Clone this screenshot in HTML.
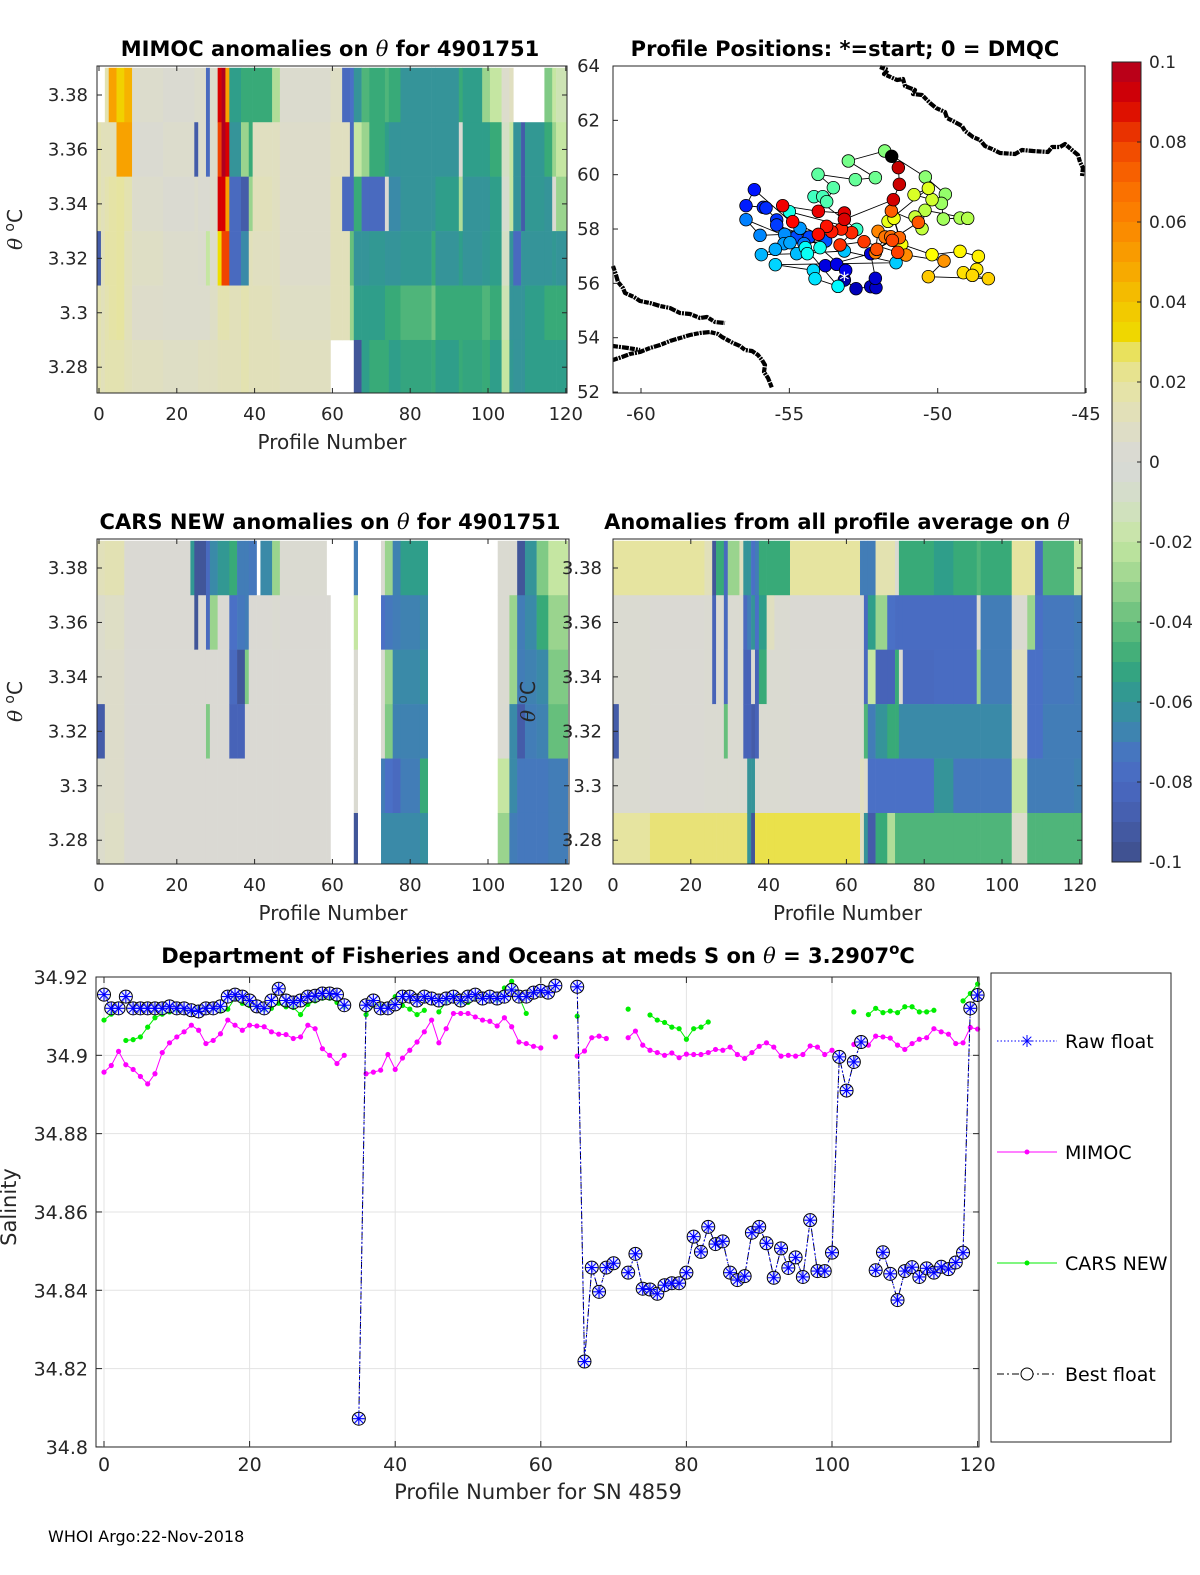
<!DOCTYPE html>
<html><head><meta charset="utf-8"><style>
html,body{margin:0;padding:0;background:#fff;}
svg{display:block;font-family:"DejaVu Sans","Liberation Sans",sans-serif;}
</style></head><body>
<svg id="fig" width="1200" height="1575" viewBox="0 0 1200 1575" xmlns="http://www.w3.org/2000/svg">
<rect width="1200" height="1575" fill="#fff"/>
<g id="p1"></g>
<g id="p2"></g>
<g id="p3"></g>
<g id="map"></g>
<g id="cbar"></g>
<g id="sal"></g>
<text x="48" y="1542" font-size="16">WHOI Argo:22-Nov-2018</text>
</svg>
<script>
// ---------- DATA ----------
const thetaLevels=[3.38,3.36,3.34,3.32,3.30,3.28];
// segments: [profileStart, profileEnd, anomaly at each theta level top->bottom]
const mimocSegs=[
[-0.8,0.5,null,0.015,0.015,-0.09,0.015,0.015],[0.5,1.5,null,0.012,0.012,0.012,0.012,0.012],
[1.5,2.5,0.015,0.012,0.015,0.018,0.015,0.015],[2.5,4.5,0.05,0.012,0.018,0.018,0.018,0.015],
[4.5,6.5,0.035,0.05,0.02,0.02,0.02,0.015],[6.5,8.5,0.045,0.05,0.015,0.012,0.012,0.012],
[8.5,16.5,0.005,0.003,0.005,0.008,0.006,0.01],[16.5,24.5,0.003,0.005,0.003,0.005,0.005,0.008],
[24.5,25.5,0.005,-0.09,0.005,0.005,0.005,0.008],[25.5,27.5,0.005,0.005,0.003,0.004,0.005,0.01],
[27.5,28.5,-0.08,-0.08,0.003,-0.02,0.005,0.01],[28.5,30.5,0.005,0.005,0.005,0.005,0.008,0.01],
[30.5,31.5,0.09,0.08,0.09,0.03,0.015,0.012],[31.5,32.5,0.1,0.1,0.09,0.08,0.015,0.012],
[32.5,33.5,0.05,0.09,0.05,0.08,0.015,0.012],[33.5,36.5,-0.055,-0.06,-0.08,-0.08,0.012,0.012],
[36.5,38.5,-0.05,-0.03,-0.09,-0.065,0.015,0.015],[38.5,39.5,-0.05,-0.05,-0.03,0.012,0.012,0.012],
[39.5,44.5,-0.05,0.01,0.012,0.01,0.012,0.012],[44.5,46.5,-0.025,0.01,0.01,0.01,0.01,0.012],
[46.5,59.5,0.004,0.006,0.006,0.006,0.008,0.01],[59.5,62.5,0.008,0.01,0.012,0.012,0.012,null],
[62.5,64.5,-0.08,0.01,-0.08,0.012,0.012,null],[64.5,65.5,-0.075,-0.08,-0.08,-0.04,-0.03,null],
[65.5,67.5,-0.06,-0.02,-0.05,-0.06,-0.055,-0.095],[67.5,69.5,-0.045,-0.03,-0.08,-0.06,-0.055,-0.055],
[69.5,73.5,-0.05,-0.05,-0.08,-0.058,-0.055,-0.05],[73.5,74.5,-0.045,-0.055,0.003,-0.06,-0.05,-0.05],
[74.5,77.5,-0.05,-0.06,-0.065,-0.06,-0.05,-0.055],[77.5,85.5,-0.06,-0.06,-0.06,-0.058,-0.045,-0.052],
[85.5,86.5,-0.06,-0.06,-0.06,-0.05,-0.038,-0.05],[86.5,92.5,-0.06,-0.06,-0.055,-0.06,-0.05,-0.055],
[92.5,93.5,-0.05,0.003,-0.025,-0.055,-0.05,-0.05],[93.5,98.5,-0.055,-0.055,-0.06,-0.06,-0.05,-0.052],
[98.5,100.5,-0.03,-0.055,-0.06,-0.058,-0.045,-0.05],[100.5,103.5,-0.02,-0.05,-0.055,-0.055,-0.05,-0.055],
[103.5,105.5,0.005,-0.01,-0.005,-0.01,-0.015,-0.02],[105.5,106.5,0.01,-0.02,-0.02,-0.06,-0.06,-0.058],
[106.5,108.5,null,-0.06,-0.06,-0.08,-0.06,-0.06],[108.5,109.5,null,-0.09,-0.09,-0.06,-0.06,-0.06],
[109.5,114.5,null,-0.058,-0.058,-0.06,-0.055,-0.055],[114.5,116.5,-0.035,-0.05,-0.06,-0.06,-0.05,-0.055],
[116.5,117.5,-0.02,-0.03,0.003,-0.058,-0.05,-0.055],[117.5,120.5,-0.015,-0.02,-0.03,-0.06,-0.05,-0.055]];
const carsSegs=[
[-0.8,1.5,0.012,0.005,0.005,-0.09,0.005,0.005],[1.5,6.5,0.014,0.008,0.006,0.006,0.006,0.008],
[6.5,23.5,0.002,0.002,0.002,0.002,0.002,0.002],[23.5,24.5,-0.058,0.002,0.002,0.002,0.002,0.002],
[24.5,25.5,-0.095,-0.095,0.002,0.002,0.002,0.002],[25.5,27.5,-0.095,0.002,0.002,0.002,0.002,0.002],
[27.5,28.5,-0.08,-0.08,0.002,-0.035,0.002,0.002],[28.5,30.5,-0.065,-0.03,0.002,0.002,0.002,0.002],
[30.5,33.5,-0.058,0.002,0.002,0.002,0.002,0.002],[33.5,35.5,-0.05,-0.075,-0.08,-0.085,0.002,0.002],
[35.5,37.5,-0.07,-0.072,-0.095,-0.085,0.002,0.002],[37.5,38.5,-0.07,-0.07,-0.035,0.002,0.002,0.002],
[38.5,40.5,-0.072,0.002,0.002,0.002,0.002,0.002],[40.5,41.5,null,0.002,0.002,0.002,0.002,0.002],
[41.5,44.5,-0.065,0.002,0.002,0.002,0.002,0.002],[44.5,46.5,-0.03,0.003,0.002,0.002,0.002,0.002],
[46.5,58.5,0.003,0.002,0.002,0.002,0.002,0.002],[58.5,59.5,null,0.002,0.002,0.002,0.002,0.002],
[65.5,66.5,-0.07,-0.02,0.003,0.003,0.003,-0.095],
[72.5,73.5,0.003,-0.075,0.003,0.003,-0.07,-0.065],[73.5,75.5,-0.03,-0.072,-0.03,-0.035,-0.075,-0.065],
[75.5,77.5,-0.068,-0.07,-0.065,-0.068,-0.08,-0.065],[77.5,82.5,-0.055,-0.068,-0.065,-0.068,-0.07,-0.065],
[82.5,84.5,-0.055,-0.065,-0.062,-0.068,-0.05,-0.062],
[102.5,105.5,0.003,0.003,0.003,0.003,-0.02,-0.03],[105.5,107.5,0.003,-0.03,-0.03,-0.065,-0.065,-0.07],
[107.5,109.5,-0.095,-0.07,-0.07,-0.09,-0.072,-0.072],[109.5,112.5,-0.06,-0.065,-0.068,-0.07,-0.072,-0.072],
[112.5,115.5,-0.035,-0.05,-0.065,-0.068,-0.072,-0.072],[115.5,120.5,-0.02,-0.03,-0.035,-0.04,-0.07,-0.07]];
const avgSegs=[
[-0.5,1.5,0.02,0.003,0.003,-0.09,0.003,0.02],[1.5,9.5,0.02,0.003,0.003,0.003,0.003,0.02],
[9.5,23.5,0.02,0.002,0.002,0.002,0.002,0.026],[23.5,25.5,0.012,0.003,0.003,0.003,0.003,0.026],
[25.5,26.5,-0.095,-0.085,-0.085,0.003,0.003,0.026],[26.5,28.5,-0.05,0.003,0.003,0.003,0.003,0.026],
[28.5,29.5,-0.08,-0.08,-0.08,-0.04,0.003,0.026],[29.5,32.5,-0.03,0.003,0.003,0.003,0.003,0.026],
[32.5,33.5,0.01,0.003,0.003,0.003,0.003,0.026],[33.5,34.5,-0.06,-0.08,-0.085,-0.085,0.003,0.026],
[34.5,35.5,-0.06,-0.07,-0.085,-0.085,-0.06,-0.06],[35.5,36.5,-0.075,-0.06,0.003,-0.09,-0.06,-0.095],
[36.5,37.5,-0.07,-0.075,-0.085,-0.085,0.003,0.028],[37.5,39.5,-0.05,-0.055,-0.05,0.003,0.003,0.028],
[39.5,41.5,-0.05,0.01,0.003,0.003,0.003,0.028],[41.5,45.5,-0.05,0.003,0.003,0.003,0.003,0.028],
[45.5,63.5,0.02,0.002,0.002,0.002,0.002,0.028],[63.5,64.5,-0.07,0.003,0.003,0.003,0.01,0.01],
[64.5,65.5,-0.07,-0.08,-0.08,-0.045,0.005,-0.06],[65.5,67.5,-0.07,-0.055,-0.02,-0.07,-0.075,-0.09],
[67.5,70.5,0.015,-0.03,-0.085,-0.06,-0.075,-0.05],[70.5,72.5,0.015,-0.075,-0.085,-0.05,-0.075,-0.025],
[72.5,73.5,0.003,-0.078,-0.05,-0.05,-0.075,-0.045],[73.5,74.5,-0.05,-0.078,0.003,-0.065,-0.075,-0.045],
[74.5,82.5,-0.05,-0.078,-0.08,-0.065,-0.075,-0.045],[82.5,87.5,-0.055,-0.078,-0.078,-0.065,-0.06,-0.045],
[87.5,93.5,-0.05,-0.078,-0.078,-0.065,-0.072,-0.045],[93.5,94.5,-0.045,0.003,-0.03,-0.065,-0.072,-0.045],
[94.5,102.5,-0.05,-0.07,-0.07,-0.065,-0.072,-0.045],[102.5,106.5,0.02,0.003,0.01,0.01,-0.02,0.005],
[106.5,108.5,0.02,-0.03,-0.075,-0.075,-0.07,-0.045],[108.5,110.5,-0.08,-0.075,-0.075,-0.075,-0.07,-0.045],
[110.5,118.5,-0.045,-0.072,-0.072,-0.07,-0.07,-0.045],[118.5,120.5,-0.02,-0.07,-0.07,-0.07,-0.068,-0.045]];

// map: positions and profile numbers
const posLon=[-53.146,-52.753,-52.258,-52.079,-52.101,-52.258,-53.786,-53.404,-53.101,
-56.180,-56.461,-55.876,-55.786,-55.427,-55.427,-54.326,-54.775,-53.775,-54.506,
-56.461,-55.989,-55.157,-54.640,-55.180,-54.978,-55.472,-55.944,-54.753,-53.146,-51.404,-55.472,-54.191,-54.135,-53.360,
-54.461,-54.393,-53.966,-55.000,-52.730,
-54.169,-53.876,-53.742,-53.517,-54.034,-52.775,-52.101,-53.011,-51.786,
-50.416,-49.742,-49.876,-49.809,-49.247,-48.989,-50.427,-50.528,-50.764,-50.191,-50.798,-50.315,-51.674,-51.472,
-51.213,-50.191,-49.247,-48.629,-48.685,-49.135,-48.831,-48.292,-50.315,-49.786,
-51.067,-52.011,-52.101,-51.775,-51.584,-51.292,-51.562,-50.652,-52.056,
-51.528,-51.348,-52.483,-53.292,-52.899,-53.247,-53.573,-53.742,-54.022,-54.888,-55.225,
-54.022,-53.146,-53.146,-51.494,-51.292,-51.326,-51.551];
const posLat=[56.123,55.804,55.878,55.841,56.185,57.093,56.651,56.700,56.479,
59.448,58.859,58.798,58.774,58.332,58.148,57.706,57.706,57.559,57.461,
58.344,57.767,57.804,58.025,57.461,57.497,57.252,57.056,57.093,57.191,56.761,56.688,56.479,56.172,55.890,
57.313,57.093,57.313,58.639,57.988,
59.191,59.191,59.007,59.522,60.013,59.817,59.890,60.504,60.872,
59.915,59.277,58.945,58.369,58.405,58.393,58.688,58.013,58.442,59.080,59.264,59.497,58.283,58.393,
57.436,57.056,57.178,56.994,56.516,56.393,56.295,56.172,56.246,56.823,
57.043,57.915,57.129,57.706,57.718,57.682,58.663,58.246,57.252,
57.583,57.142,57.534,57.412,57.865,58.000,57.902,58.099,57.804,58.270,58.859,
58.651,58.590,58.356,59.080,59.645,60.258,60.675];
const posProfile=[0,2,3,4,5,6,7,8,9,
14,15,16,17,18,19,20,21,22,
27,28,29,30,31,32,33,34,35,36,37,38,39,40,41,
44,45,46,47,48,
52,53,54,55,56,57,58,59,60,
62,63,64,65,66,67,68,69,70,71,72,73,74,75,
76,77,78,79,80,81,82,83,84,85,
92,93,94,95,96,97,98,99,100,
101,102,103,104,105,106,107,108,109,110,111,
113,114,115,116,117,118,119];

// salinity series (index = profile number 0..120)
const N=null;
const bestFloat=[34.9155,34.9120,34.9120,34.9150,34.9120,34.9120,34.9120,34.9120,34.9120,34.9125,
34.9120,34.9120,34.9115,34.9112,34.9120,34.9120,34.9125,34.9150,34.9155,34.9150,
34.9140,34.9125,34.9120,34.9140,34.9170,34.9140,34.9135,34.9140,34.9150,34.9152,
34.9158,34.9158,34.9155,34.9128,N,34.8072,34.9128,34.9140,34.9120,34.9120,
34.9130,34.9150,34.9150,34.9140,34.9150,34.9145,34.9140,34.9145,34.9150,34.9140,
34.9150,34.9155,34.9145,34.9150,34.9145,34.9150,34.9167,34.9150,34.9150,34.9160,
34.9165,34.9160,34.9178,N,N,34.9175,34.8218,34.8458,34.8396,34.8458,
34.8469,N,34.8445,34.8493,34.8404,34.8402,34.8391,34.8413,34.8418,34.8418,
34.8445,34.8537,34.8498,34.8562,34.8518,34.8525,34.8445,34.8426,34.8436,34.8547,
34.8562,34.8520,34.8432,34.8507,34.8457,34.8484,34.8434,34.8579,34.8449,34.8449,
34.8496,34.8996,34.8910,34.8983,34.9034,N,34.8451,34.8497,34.8442,34.8375,
34.8449,34.8459,34.8434,34.8456,34.8445,34.8460,34.8454,34.8471,34.8496,34.9120,34.9154];
const rawFloat=bestFloat.slice();
const mimoc=[34.8957,34.8974,34.9010,34.8976,34.8964,34.8946,34.8927,34.8953,34.9007,34.9032,
34.9047,34.9060,34.9077,34.9064,34.9030,34.9038,34.9055,34.9090,34.9077,34.9064,
34.9077,34.9075,34.9073,34.9060,34.9054,34.9053,34.9043,34.9047,34.9077,34.9068,
34.9017,34.9000,34.8979,34.9000,N,N,34.8953,34.8957,34.8962,34.9002,
34.8964,34.8993,34.9013,34.9034,34.9060,34.9090,34.9032,34.9068,34.9107,34.9107,
34.9107,34.9098,34.9090,34.9087,34.9075,34.9096,34.9073,34.9034,34.9030,34.9023,
34.9019,N,34.9047,N,N,34.8998,34.9011,34.9045,34.9049,34.9043,
N,N,34.9045,34.9062,34.9026,34.9013,34.9007,34.9000,34.9006,34.8994,
34.9003,34.9002,34.9002,34.9007,34.9015,34.9013,34.9021,34.9002,34.8992,34.9007,
34.9023,34.9032,34.9021,34.8998,34.9000,34.8998,34.9002,34.9024,34.9021,34.9002,
34.9013,N,N,34.9028,N,34.9026,34.9049,34.9047,34.9044,34.9026,
34.9015,34.9030,34.9041,34.9045,34.9068,34.9060,34.9054,34.9030,34.9032,34.9071,34.9067];
const carsNew=[34.9090,34.9105,N,34.9038,34.9040,34.9047,34.9072,34.9096,34.9105,34.9111,
34.9115,34.9118,34.9113,34.9120,34.9120,34.9120,34.9113,34.9118,34.9146,34.9133,
34.9127,34.9124,34.9117,34.9120,34.9133,34.9124,34.9122,34.9104,34.9130,34.9139,
34.9146,34.9146,34.9135,34.9124,N,N,34.9104,34.9128,34.9127,34.9124,
34.9150,34.9127,34.9118,34.9104,34.9115,N,34.9111,34.9137,34.9152,34.9135,
34.9135,34.9146,34.9150,34.9152,34.9141,34.9172,34.9189,34.9150,34.9107,N,
N,N,N,N,N,34.9100,N,N,N,N,
N,N,34.9118,N,N,34.9103,34.9090,34.9084,34.9072,34.9068,
34.9041,34.9068,34.9072,34.9085,N,N,N,N,N,N,
N,N,N,N,N,N,N,N,N,N,
N,N,N,34.9111,N,34.9104,34.9120,34.9109,34.9113,34.9109,
34.9124,34.9124,34.9111,34.9111,34.9115,N,N,N,34.9139,34.9158,34.9182];
const salTicks=[34.8,34.82,34.84,34.86,34.88,34.9,34.92];
const salTickLabels=["34.8","34.82","34.84","34.86","34.88","34.9","34.92"];
const profTicks=[0,20,40,60,80,100,120];
const thetaTickLabels=["3.38","3.36","3.34","3.32","3.3","3.28"];
const cbarTicks=[0.1,0.08,0.06,0.04,0.02,0,-0.02,-0.04,-0.06,-0.08,-0.1];
const cbarTickLabels=["0.1","0.08","0.06","0.04","0.02","0","-0.02","-0.04","-0.06","-0.08","-0.1"];
const lonTicks=[-60,-55,-50,-45];
const latTicks=[64,62,60,58,56,54,52];

// ---------- helpers ----------
const NS="http://www.w3.org/2000/svg";
function mk(tag,attrs,parent){const e=document.createElementNS(NS,tag);for(const k in attrs)e.setAttribute(k,attrs[k]);if(parent)parent.appendChild(e);return e;}
const stops=[[-0.1,"#3e4f8a"],[-0.085,"#4763b8"],[-0.075,"#4a70c6"],[-0.065,"#3a8aa8"],[-0.055,"#2f9e8a"],[-0.05,"#38aa78"],[-0.04,"#66bf7c"],[-0.03,"#9ad48e"],[-0.02,"#c5e6a2"],[-0.01,"#d4dfc6"],[0,"#d8d8d8"],[0.01,"#e0dfc0"],[0.02,"#e6e4a0"],[0.027,"#e8e270"],[0.03,"#eede00"],[0.04,"#f3c300"],[0.05,"#f8a200"],[0.06,"#fb8400"],[0.07,"#fa6a00"],[0.08,"#ef4300"],[0.09,"#d80000"],[0.1,"#b00020"]];
function hx(c){return [parseInt(c.substr(1,2),16),parseInt(c.substr(3,2),16),parseInt(c.substr(5,2),16)];}
function cmap(v){v=Math.max(-0.1,Math.min(0.1,v));for(let i=0;i<stops.length-1;i++){const a=stops[i],b=stops[i+1];if(v<=b[0]){const t=(v-a[0])/(b[0]-a[0]);const ca=hx(a[1]),cb=hx(b[1]);return "rgb("+ca.map((x,j)=>Math.round(x+(cb[j]-x)*t)).join(",")+")";}}return stops[stops.length-1][1];}
function jet(t){const c=x=>Math.max(0,Math.min(1,x));return "rgb("+[c(1.5-Math.abs(4*t-3)),c(1.5-Math.abs(4*t-2)),c(1.5-Math.abs(4*t-1))].map(x=>Math.round(x*255)).join(",")+")";}

// ---------- heatmap panels ----------
function heatPanel(gid,segs,box,x0,y338,title,titleX,yTickSide,ylabX){
  const g=document.getElementById(gid);
  const xs=p=>x0+p*3.89;
  const ys=t=>y338+(3.38-t)*2722;
  const clipId=gid+"clip";
  const defs=mk("defs",{},g);const cp=mk("clipPath",{id:clipId},defs);mk("rect",{x:box[0],y:box[1],width:box[2]-box[0],height:box[3]-box[1]},cp);
  const cg=mk("g",{"clip-path":"url(#"+clipId+")"},g);
  segs.forEach(s=>{
    for(let r=0;r<6;r++){const v=s[2+r];if(v===null)continue;const th=thetaLevels[r];
      const x1=xs(s[0]),x2=xs(s[1]),y1=ys(th+0.01),y2=ys(th-0.01);
      const rc=mk("rect",{x:x1,y:y1,width:x2-x1+0.3,height:y2-y1+0.3,fill:cmap(v)},cg);
      
      }
  });
  const fr=mk("rect",{x:box[0],y:box[1],width:box[2]-box[0],height:box[3]-box[1],fill:"none",stroke:"#262626","stroke-width":1},g);
  
  
  thetaLevels.forEach((t,i)=>{const y=ys(t);
    mk("line",{x1:box[0],x2:box[0]+5,y1:y,y2:y,stroke:"#262626"},g);mk("line",{x1:box[2],x2:box[2]-5,y1:y,y2:y,stroke:"#262626"},g);
    const tx=mk("text",{x:yTickSide,y:y+6,"font-size":18,"text-anchor":"end",fill:"#262626"},g);tx.textContent=thetaTickLabels[i];
    
    });
  profTicks.forEach(p=>{const x=xs(p);
    mk("line",{x1:x,x2:x,y1:box[3],y2:box[3]-5,stroke:"#262626"},g);mk("line",{x1:x,x2:x,y1:box[1],y2:box[1]+5,stroke:"#262626"},g);
    const tx=mk("text",{x:x,y:box[3]+27,"font-size":18,"text-anchor":"middle",fill:"#262626"},g);tx.textContent=p;
    
    });
  const xl=mk("text",{x:(box[0]+box[2])/2,y:box[3]+56,"font-size":20,"text-anchor":"middle",fill:"#262626"},g);xl.textContent="Profile Number";
  
  
  const yl=mk("text",{x:0,y:0,"font-size":20,"text-anchor":"middle",fill:"#262626",transform:"translate("+ylabX+","+((box[1]+box[3])/2)+") rotate(-90)"},g);
  yl.innerHTML='<tspan font-family="DejaVu Serif,serif" font-style="italic">θ</tspan> <tspan baseline-shift="super" font-size="14">o</tspan>C';
  
  
  const tt=mk("text",{x:titleX,y:box[1]-10,"font-size":21,"font-weight":"bold","text-anchor":"middle",fill:"#000"},g);
  tt.innerHTML=title;
  
  
}
const TH='<tspan font-family="DejaVu Serif,serif" font-style="italic" font-weight="normal">θ</tspan>';
heatPanel("p1",mimocSegs,[97,66,567,393],99,95,"MIMOC anomalies on "+TH+"  for 4901751",330,88,22);
heatPanel("p2",carsSegs,[97,539,569,864],99,568,"CARS NEW anomalies on "+TH+" for 4901751",330,88,22);
heatPanel("p3",avgSegs,[613,539,1082,864],613,568,"Anomalies from all profile average on "+TH,837,602,535);

// ---------- map ----------
(function(){
  const g=document.getElementById("map");
  const box=[613,66,1085,393];
  const xs=lon=>641+(lon+60)*29.67, ys=lat=>66+(64-lat)*27.17;
  const cst=mk("g",{fill:"none",stroke:"#000","stroke-width":4.2,"stroke-linejoin":"round","stroke-dasharray":"5 1 2 1 7 1"},g);
  
  
  mk("path",{d:"M880 67 L888 70 L884 74 L897 80 L903 79 L905 86 L915 90 L913 94 L922 95 L930 103 L936 108 L945 112 L947 118 L953 121 L962 126 L965 131 L973 137 L980 140 L985 146 L992 149 L1000 153 L1015 154 L1022 150 L1033 151 L1048 152 L1052 147 L1060 147 L1065 144 L1072 150 L1078 155 L1080 162 L1083 168 L1082 176"},cst);
  mk("path",{d:"M613 266 L616 275 L618 282 L623 288 L625 293 L634 297 L640 301 L650 303 L660 306 L670 308 L680 313 L690 314 L700 318 L707 317 L715 322 L725 323"},cst);
  mk("path",{d:"M613 360 L622 357 L630 354 L640 352 L650 348 L660 345 L670 341 L680 338 L690 335 L700 333 L710 332 L718 334 L722 337 L733 343 L740 346 L745 350 L752 351 L758 355 L762 360 L765 365 L764 372 L768 378 L770 383 L772 388"},cst);
  mk("path",{d:"M613 346 L628 348 L640 350"},cst);
  const ln=mk("g",{stroke:"#000","stroke-width":0.9,fill:"none"},g);
  let d="";posLon.forEach((lo,i)=>{d+=(i?"L":"M")+xs(lo).toFixed(1)+" "+ys(posLat[i]).toFixed(1)+" ";});
  const tr=mk("path",{d:d},ln);
  
  
  posLon.forEach((lo,i)=>{
    const c=mk("circle",{cx:xs(lo),cy:ys(posLat[i]),r:6.3,fill:jet(0.04+posProfile[i]/120*0.9),stroke:"#000","stroke-width":0.8},g);
    
    
  });
  const sx=xs(posLon[0]),sy=ys(posLat[0]);
  const st=mk("text",{x:sx,y:sy+7,"font-size":20,"text-anchor":"middle",fill:"#fff"},g);st.textContent="*";
  
  
  const fr=mk("rect",{x:box[0],y:box[1],width:box[2]-box[0],height:box[3]-box[1],fill:"none",stroke:"#262626"},g);
  
  
  latTicks.forEach(l=>{const y=ys(l);mk("line",{x1:box[0],x2:box[0]+5,y1:y,y2:y,stroke:"#262626"},g);
    const t=mk("text",{x:600,y:y+6,"font-size":18,"text-anchor":"end",fill:"#262626"},g);t.textContent=l;
    
    });
  lonTicks.forEach(l=>{const x=xs(l);mk("line",{x1:x,x2:x,y1:box[3],y2:box[3]-5,stroke:"#262626"},g);
    const t=mk("text",{x:x,y:box[3]+27,"font-size":18,"text-anchor":"middle",fill:"#262626"},g);t.textContent=l;
    
    });
  const tt=mk("text",{x:845,y:56,"font-size":21,"font-weight":"bold","text-anchor":"middle"},g);tt.textContent="Profile Positions: *=start; 0 = DMQC";
  
  
})();

// ---------- colorbar ----------
(function(){
  const g=document.getElementById("cbar");
  const x=1112,w=29,y0=62,y1=862;const ys=v=>y0+(0.1-v)/0.2*(y1-y0);
  for(let i=0;i<40;i++){const v=0.1-0.005*i-0.0025;
    const r=mk("rect",{x:x,y:ys(v+0.0025),width:w,height:(y1-y0)/40+0.4,fill:cmap(v)},g);
    
    }
  mk("rect",{x:x,y:y0,width:w,height:y1-y0,fill:"none",stroke:"#262626"},g);
  cbarTicks.forEach((v,i)=>{const y=ys(v);mk("line",{x1:x+w-4,x2:x+w,y1:y,y2:y,stroke:"#262626"},g);
    const t=mk("text",{x:1149,y:y+6,"font-size":17,fill:"#262626"},g);t.textContent=cbarTickLabels[i];
    
    });
})();

// ---------- salinity chart ----------
(function(){
  const g=document.getElementById("sal");
  const box=[96,977,979,1447];
  const xs=p=>104+p*7.28, ys=v=>977+(34.92-v)*3916;
  profTicks.forEach(p=>{const x=xs(p);mk("line",{x1:x,x2:x,y1:box[1],y2:box[3],stroke:"#e3e3e3"},g);
    mk("line",{x1:x,x2:x,y1:box[3],y2:box[3]-6,stroke:"#262626"},g);mk("line",{x1:x,x2:x,y1:box[1],y2:box[1]+6,stroke:"#262626"},g);
    const t=mk("text",{x:x,y:box[3]+24,"font-size":19,"text-anchor":"middle",fill:"#262626"},g);t.textContent=p;
    
    });
  salTicks.forEach((v,i)=>{const y=ys(v);mk("line",{x1:box[0],x2:box[2],y1:y,y2:y,stroke:"#e3e3e3"},g);
    mk("line",{x1:box[0],x2:box[0]+6,y1:y,y2:y,stroke:"#262626"},g);mk("line",{x1:box[2],x2:box[2]-6,y1:y,y2:y,stroke:"#262626"},g);
    const t=mk("text",{x:88,y:y+7,"font-size":19,"text-anchor":"end",fill:"#262626"},g);t.textContent=salTickLabels[i];
    
    });
  function path(arr){let d="",pen=false;arr.forEach((v,i)=>{if(v===null){pen=false;return;}d+=(pen?"L":"M")+xs(i).toFixed(1)+" "+ys(v).toFixed(1)+" ";pen=true;});return d;}
  const pm=mk("path",{d:path(mimoc),fill:"none",stroke:"#ff00ff","stroke-width":1},g);
  
  
  mimoc.forEach((v,i)=>{if(v===null)return;const c=mk("circle",{cx:xs(i),cy:ys(v),r:2.6,fill:"#ff00ff"},g);
    
    });
  const pc=mk("path",{d:path(carsNew),fill:"none",stroke:"#00ee00","stroke-width":1},g);
  
  
  carsNew.forEach((v,i)=>{if(v===null)return;const c=mk("circle",{cx:xs(i),cy:ys(v),r:2.6,fill:"#00ee00"},g);
    
    });
  const pb=mk("path",{d:path(bestFloat),fill:"none",stroke:"#000","stroke-width":1,"stroke-dasharray":"7 3 2 3"},g);
  
  
  const pr=mk("path",{d:path(rawFloat),fill:"none",stroke:"#0000ff","stroke-width":1,"stroke-dasharray":"1.5 2"},g);
  
  
  bestFloat.forEach((v,i)=>{if(v===null)return;const c=mk("circle",{cx:xs(i),cy:ys(v),r:6.5,fill:"#dde3ff","fill-opacity":0.6,stroke:"#000","stroke-width":1},g);
    
    });
  rawFloat.forEach((v,i)=>{if(v===null)return;const x=xs(i),y=ys(v);
    const a=mk("path",{d:`M${x-6} ${y}H${x+6}M${x} ${y-6}V${y+6}M${x-4.3} ${y-4.3}L${x+4.3} ${y+4.3}M${x-4.3} ${y+4.3}L${x+4.3} ${y-4.3}`,stroke:"#0000ff","stroke-width":1.1},g);
    
    });
  const fr=mk("rect",{x:box[0],y:box[1],width:box[2]-box[0],height:box[3]-box[1],fill:"none",stroke:"#262626"},g);
  
  
  const tt=mk("text",{x:538,y:963,"font-size":21,"font-weight":"bold","text-anchor":"middle"},g);
  tt.innerHTML='Department of Fisheries and Oceans at meds S on '+TH+' = 3.2907<tspan baseline-shift="super" font-size="15">o</tspan>C';
  
  
  const xl=mk("text",{x:538,y:1499,"font-size":21,"text-anchor":"middle",fill:"#262626"},g);xl.textContent="Profile Number for SN 4859";
  
  
  const yl=mk("text",{x:0,y:0,"font-size":21,"text-anchor":"middle",fill:"#262626",transform:"translate(16,1207) rotate(-90)"},g);yl.textContent="Salinity";
  
  
  const lg=mk("g",{},g);
  
  
  mk("rect",{x:991,y:973,width:180,height:469,fill:"#fff",stroke:"#262626"},lg);
  const ents=[["Raw float",1041],["MIMOC",1152],["CARS NEW",1263],["Best float",1374]];
  ents.forEach((e,i)=>{const y=e[1];const eg=mk("g",{},lg);
    
    
    if(i===0){mk("line",{x1:997,x2:1057,y1:y,y2:y,stroke:"#0000ff","stroke-dasharray":"1.5 2"},eg);
      mk("path",{d:`M1021 ${y}H1033M1027 ${y-6}V${y+6}M1022.7 ${y-4.3}L1031.3 ${y+4.3}M1022.7 ${y+4.3}L1031.3 ${y-4.3}`,stroke:"#0000ff"},eg);}
    if(i===1){mk("line",{x1:997,x2:1057,y1:y,y2:y,stroke:"#ff00ff"},eg);mk("circle",{cx:1027,cy:y,r:2.5,fill:"#ff00ff"},eg);}
    if(i===2){mk("line",{x1:997,x2:1057,y1:y,y2:y,stroke:"#00ee00"},eg);mk("circle",{cx:1027,cy:y,r:2.5,fill:"#00ee00"},eg);}
    if(i===3){mk("line",{x1:997,x2:1057,y1:y,y2:y,stroke:"#000","stroke-dasharray":"7 3 2 3"},eg);mk("circle",{cx:1027,cy:y,r:6,fill:"#fff",stroke:"#000"},eg);}
    const t=mk("text",{x:1065,y:y+7,"font-size":19,fill:"#000"},eg);t.textContent=e[0];});
})();
</script>
</body></html>
